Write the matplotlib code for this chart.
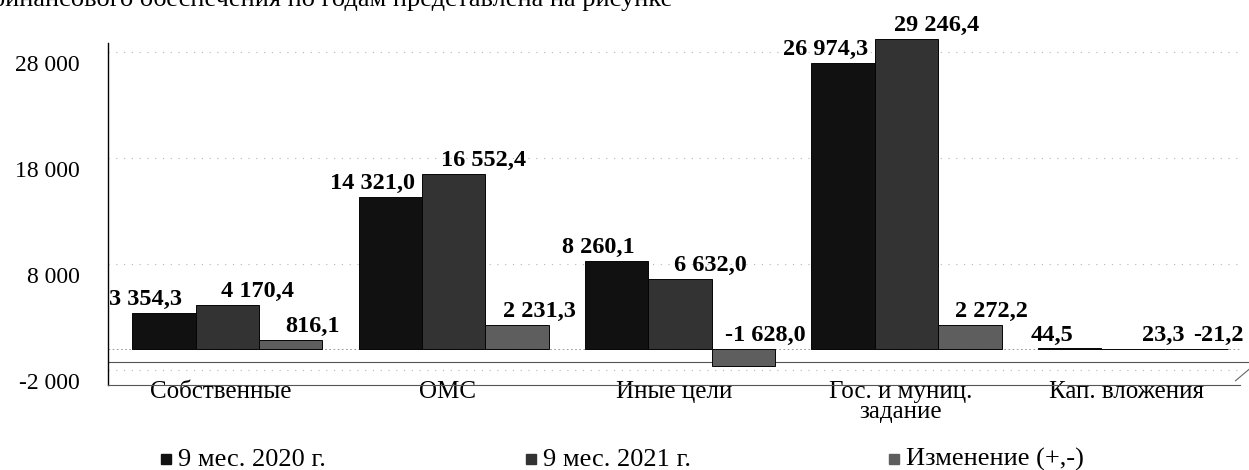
import matplotlib
matplotlib.use('Agg')
import matplotlib.pyplot as plt
import matplotlib.transforms as mtransforms
from matplotlib.patches import Rectangle
import numpy as np

# источники финансирования, тыс. руб.
categories = ['Собственные', 'ОМС', 'Иные цели', 'Гос. и муниц.\nзадание', 'Кап. вложения']
v2020 = [3354.3, 14321.0, 8260.1, 26974.3, 44.5]
v2021 = [4170.4, 16552.4, 6632.0, 29246.4, 23.3]
change = [816.1, 2231.3, -1628.0, 2272.2, -21.2]
series_names = ['9 мес. 2020 г.', '9 мес. 2021 г.', 'Изменение (+,-)']
yticks = [-2000, 8000, 18000, 28000]

plt.rcParams['font.family'] = ['Liberation Serif', 'DejaVu Serif']


def fmt(v, dec=1):
    s = f'{abs(v):,.{dec}f}'.replace(',', ' ').replace('.', ',')
    return ('-' if v < 0 else '') + s


W, H = 1249, 470
fig = plt.figure(figsize=(W / 100, H / 100), dpi=100)
ax = fig.add_axes([108 / W, 85 / H, 1132 / W, 355 / H])

x = np.arange(len(categories))
width = 0.28
colors = ['#111111', '#333333', '#5e5e5e']
label_dx = [-18, 30, 22]

for i, vals in enumerate([v2020, v2021, change]):
    pos = x + (i - 1) * width + 0.027
    ax.bar(pos, vals, width, color=colors[i], edgecolor='#050505',
           linewidth=0.7, zorder=3)
    for xp, v in zip(pos, vals):
        ax.annotate(fmt(v), xy=(xp, max(v, 0)), xytext=(label_dx[i], 3),
                    textcoords='offset pixels', ha='center', va='bottom',
                    fontsize=17.5, fontweight='bold', zorder=5)

ax.set_xlim(-0.5, 4.5)
ax.set_ylim(-3400, 30100)

# сетка и подписи оси Y
ax.set_yticks(yticks)
ax.set_yticklabels([])
ax.tick_params(axis='y', length=0)
ax.yaxis.grid(True, linestyle=(0, (1, 6)), color='#b5b5b5', linewidth=0.8)
ax.set_axisbelow(True)
ytrans = mtransforms.blended_transform_factory(ax.transAxes, ax.transData)
off = mtransforms.ScaledTranslation(-0.28, -0.13, fig.dpi_scale_trans)
for t in yticks:
    ax.text(0, t, fmt(t, 0), transform=ytrans + off, ha='right',
            va='center', fontsize=17)

ax.set_xticks(x)
ax.set_xticklabels(categories, fontsize=18, linespacing=0.92)
ax.tick_params(axis='x', length=0, pad=-3)

for s in ['top', 'right']:
    ax.spines[s].set_visible(False)
ax.spines['left'].set_bounds(-3400, 28900)
ax.spines['left'].set_linewidth(1.0)
ax.spines['bottom'].set_color('#555555')
ax.spines['bottom'].set_linewidth(0.8)

# "пол" диаграммы
ax.axhline(0, color='#888888', linestyle=(0, (2, 3)), linewidth=0.6, zorder=1)
ax.plot([-0.5, 4.55], [-1200, -1200], color='#555555', linewidth=0.8,
        clip_on=False, zorder=2)
ax.plot([4.58, 4.48], [-1200, -3000], color='#666666', linewidth=0.8,
        clip_on=False)

# легенда
for name, col, lx in zip(series_names, colors, [161, 526, 889]):
    fig.patches.append(Rectangle((lx / W, 1 - 464 / H), 10 / W, 10 / H,
                                 transform=fig.transFigure, color=col))
    fig.text((lx + 17) / W, 1 - 466 / H, name, fontsize=19, va='baseline')

# обрезанная строка текста над рисунком
fig.text(-12 / W, 1 - 6 / H,
         'финансового обеспечения по годам представлена на рисунке',
         fontsize=19, va='baseline', ha='left')

fig.savefig('out.png', dpi=100)
